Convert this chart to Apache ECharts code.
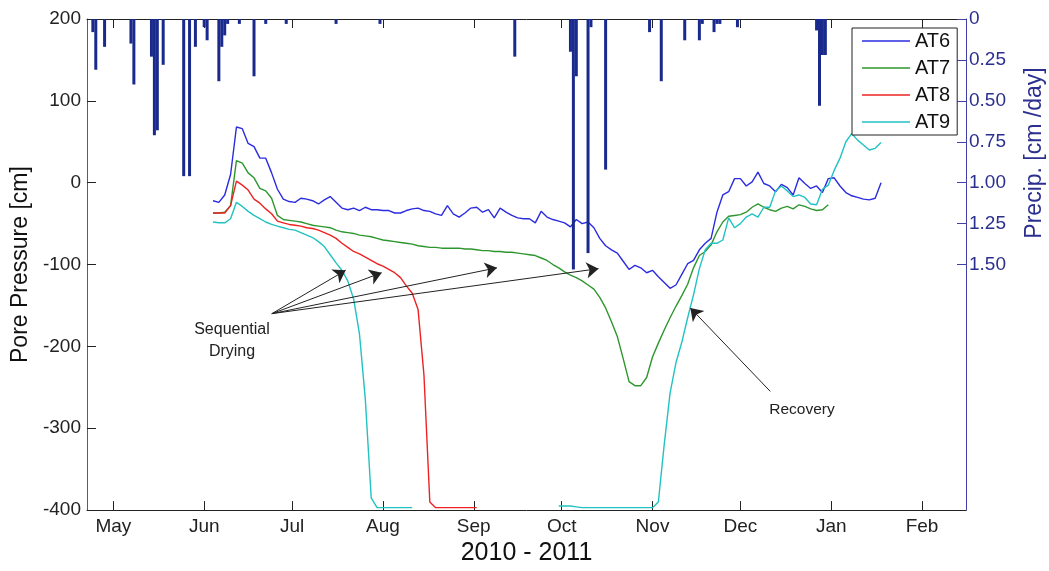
<!DOCTYPE html>
<html>
<head>
<meta charset="utf-8">
<title>Pore pressure and precipitation 2010 - 2011</title>
<script src="https://cdn.jsdelivr.net/npm/echarts@6/dist/echarts.min.js"></script>
<style>
  html, body { margin: 0; padding: 0; background: #fff; }
  #chart { width: 1049px; height: 571px; }
</style>
</head>
<body>
<div id="chart"></div>
<script>
// pore pressure readings, one every 2 days from 4 Jun 2010 (cm)
const sampleStart = '2010-06-04';
const sampleStepDays = 2;

const at6 = [
  -22, -24, -15, 10, 68, 66, 48, 44, 30, 30, 12, -8, -20, -23, -24, -19, -20, -22, -26, -21,
  -17, -24, -31, -33, -31, -34, -30, -33, -33, -34, -34, -37, -37, -34, -32, -31, -34, -35, -38, -40,
  -28, -38, -42, -37, -31, -30, -36, -33, -43, -31, -36, -40, -43, -44, -44, -49, -35, -42, -45, -47,
  -49, -54, -45, -50, -48, -55, -68, -77, -82, -86, -96, -106, -101, -104, -110, -107, -115, -122, -129, -125,
  -112, -99, -95, -82, -74, -68, -36, -15, -11, 5, 5, -4, 1, 13, -1, -4, -11, -2, -6, -15,
  6, -1, -7, -4, -12, 5, 6, -4, -12, -16, -18, -20, -21, -19, 0
];
const at7 = [
  -37, -37, -36, -28, 27, 24, 12, 6, -7, -10, -19, -40, -45, -46, -47, -48, -50, -52, -53, -54,
  -55, -58, -60, -61, -62, -64, -65, -66, -68, -70, -71, -72, -73, -74, -75, -77, -78, -79, -79, -80,
  -80, -80, -80, -81, -81, -82, -83, -83, -84, -84, -85, -85, -86, -87, -88, -89, -92, -95, -100, -104,
  -109, -113, -116, -120, -125, -130, -140, -153, -170, -188, -215, -243, -248, -248, -238, -213, -196, -180, -165, -151,
  -138, -124, -104, -89, -84, -76, -60, -48, -41, -40, -39, -36, -30, -26, -30, -33, -35, -31, -29, -32,
  -27, -29, -32, -34, -33, -27, null, null, null, null, null, null, null, null, null
];
const at8 = [
  -37, -37, -37, -28, 2, -3, -9, -20, -25, -32, -38, -47, -49, -51, -52, -53, -55, -56, -58, -61,
  -64, -68, -74, -79, -84, -87, -91, -95, -99, -102, -106, -110, -116, -126, -135, -155, -235, -390, -397, -397,
  -397, -397, -397, -397, -397, -397, null, null, null, null, null, null, null, null, null, null, null, null, null, null,
  null, null, null, null, null, null, null, null, null, null, null, null, null, null, null, null, null, null, null, null,
  null, null, null, null, null, null, null, null, null, null, null, null, null, null, null, null, null, null, null, null,
  null, null, null, null, null, null, null, null, null, null, null, null, null, null, null
];
const at9 = [
  -48, -49, -49, -44, -24, -29, -35, -40, -44, -48, -51, -53, -55, -57, -58, -61, -64, -67, -72, -78,
  -88, -98, -107, -120, -142, -185, -265, -385, -397, -397, -397, -397, -397, -397, -397, null, null, null, null, null,
  null, null, null, null, null, null, null, null, null, null, null, null, null, null, null, null, null, null, null, -395,
  -395, -395, -396, -397, -397, -397, -397, -397, -397, -397, -397, -397, -397, -397, -397, -397, -390, -320, -257, -220,
  -195, -165, -137, -105, -82, -74, -74, -70, -43, -55, -50, -42, -38, -42, -30, -30, -10, -4, -10, -17,
  -15, -18, -26, -27, -8, -3, 15, 30, 50, 60, 52, 46, 40, 42, 49
];

// daily precipitation (cm/day)
const precipDates = [
  '2010-04-24', '2010-04-25', '2010-04-28', '2010-05-07', '2010-05-08', '2010-05-14', '2010-05-15', '2010-05-16',
  '2010-05-18', '2010-05-25', '2010-05-27', '2010-05-29', '2010-06-01', '2010-06-02', '2010-06-06', '2010-06-07',
  '2010-06-08', '2010-06-09', '2010-06-13', '2010-06-18', '2010-06-22', '2010-06-29', '2010-07-16', '2010-07-31',
  '2010-09-15', '2010-10-04', '2010-10-05', '2010-10-06', '2010-10-10', '2010-10-11', '2010-10-16', '2010-10-31',
  '2010-11-04', '2010-11-12', '2010-11-17', '2010-11-18', '2010-11-22', '2010-11-23', '2010-11-24', '2010-11-30',
  '2010-12-27', '2010-12-28', '2010-12-29', '2010-12-30'
];
const precipValues = [
  0.08, 0.31, 0.17, 0.15, 0.40, 0.23, 0.71, 0.68,
  0.28, 0.96, 0.96, 0.17, 0.05, 0.13, 0.38, 0.17,
  0.10, 0.03, 0.03, 0.35, 0.03, 0.03, 0.03, 0.03,
  0.23, 0.20, 1.53, 0.35, 1.43, 0.05, 0.92, 0.08,
  0.38, 0.13, 0.13, 0.03, 0.08, 0.03, 0.03, 0.05,
  0.07, 0.53, 0.22, 0.22
];

const monthTicks = ['2010-05-01', '2010-06-01', '2010-07-01', '2010-08-01', '2010-09-01',
  '2010-10-01', '2010-11-01', '2010-12-01', '2011-01-01', '2011-02-01'];
const monthLabels = ['May', 'Jun', 'Jul', 'Aug', 'Sep', 'Oct', 'Nov', 'Dec', 'Jan', 'Feb'];
const precipTicks = [0, 0.25, 0.5, 0.75, 1.0, 1.25, 1.5];

// annotation arrows [date, cm]
const dryingFrom = ['2010-06-24T02:00Z', -160];
const dryingTo = [
  ['2010-07-19T07:00Z', -107],
  ['2010-07-31T14:00Z', -110],
  ['2010-09-08T22:00Z', -104],
  ['2010-10-13T14:00Z', -105]
];
const recoveryFrom = ['2010-12-11T05:00Z', -255];
const recoveryTo = ['2010-11-13T22:00Z', -153];

const DAY = 86400000;
const FONT = '"Liberation Sans", Arial, sans-serif';
const t0 = Date.parse(sampleStart);
const sampleDates = at6.map((_, i) => t0 + i * sampleStepDays * DAY);
const monthTimes = monthTicks.map(d => Date.parse(d));
const pair = vals => sampleDates.map((t, i) => [t, vals[i]]);
const pt = p => [Date.parse(p[0]), p[1]];

const chart = echarts.init(document.getElementById('chart'));

const arrowLines = dryingTo.map(p => [{ coord: pt(dryingFrom) }, { coord: pt(p) }]);
arrowLines.push([{ coord: pt(recoveryFrom) }, { coord: pt(recoveryTo) }]);

const timeMin = Date.parse('2010-04-22');
const timeMax = Date.parse('2011-02-16');

const lineSeries = (name, vals, color) => ({
  name: name,
  type: 'line',
  data: pair(vals),
  symbol: 'none',
  showSymbol: false,
  connectNulls: false,
  lineStyle: { color: color, width: 1.4 },
  itemStyle: { color: color },
  z: 2
});

const s6 = lineSeries('AT6', at6, '#2b2be0');
s6.markLine = {
  silent: true,
  symbol: ['none', 'arrow'],
  symbolSize: 12,
  label: { show: false },
  lineStyle: { color: '#222', width: 1, type: 'solid' },
  emphasis: { disabled: true },
  data: arrowLines
};

const monthAxis = (position) => ({
  type: 'value',
  min: timeMin,
  max: timeMax,
  position: position,
  axisLine: { onZero: false, lineStyle: { color: '#222', width: 1 } },
  axisTick: { inside: true, length: 9, customValues: monthTimes, lineStyle: { color: '#222' } },
  axisLabel: {
    show: position === 'bottom',
    customValues: monthTimes,
    formatter: v => monthLabels[monthTimes.findIndex(t => Math.abs(t - v) < DAY)] || '',
    fontSize: 19,
    color: '#222',
    margin: 7
  },
  splitLine: { show: false }
});

const xBottom = monthAxis('bottom');
xBottom.name = '2010 - 2011';
xBottom.nameLocation = 'middle';
xBottom.nameGap = 24;
xBottom.nameTextStyle = { fontSize: 25, color: '#111', fontFamily: FONT };

const option = {
  animation: false,
  textStyle: { fontFamily: FONT },
  grid: { left: 87, right: 83, top: 19, bottom: 52 },
  legend: {
    data: ['AT6', 'AT7', 'AT8', 'AT9'],
    orient: 'vertical',
    left: 852,
    top: 28,
    icon: 'rect',
    itemWidth: 48,
    itemHeight: 1.5,
    itemGap: 7,
    padding: [3, 7, 3, 10],
    backgroundColor: '#fff',
    borderColor: '#222',
    borderWidth: 1,
    textStyle: { fontSize: 20, lineHeight: 20, color: '#111', fontFamily: FONT }
  },
  xAxis: [xBottom, monthAxis('top')],
  yAxis: [
    {
      type: 'value',
      min: -400,
      max: 200,
      interval: 100,
      name: 'Pore Pressure [cm]',
      nameLocation: 'middle',
      nameGap: 46,
      nameTextStyle: { fontSize: 23, color: '#111', fontFamily: FONT },
      axisLine: { show: true, onZero: false, lineStyle: { color: '#5252b0' } },
      axisTick: { show: true, inside: true, length: 9, lineStyle: { color: '#222' } },
      axisLabel: { fontSize: 19, color: '#222', margin: 6 },
      splitLine: { show: false }
    },
    {
      type: 'value',
      position: 'right',
      inverse: true,
      min: 0,
      max: 3,
      axisLine: { show: true, onZero: false, lineStyle: { color: '#4040a8' } },
      axisTick: { show: true, inside: true, length: 9, customValues: precipTicks },
      axisLabel: {
        customValues: precipTicks,
        formatter: v => (v === 0 ? '0' : v.toFixed(2)),
        fontSize: 19,
        color: '#2b2f8f',
        margin: 3
      },
      splitLine: { show: false }
    }
  ],
  graphic: [
    {
      type: 'text',
      x: 1035,
      y: 153,
      rotation: Math.PI / 2,
      style: {
        text: 'Precip. [cm /day]',
        fontSize: 23,
        fontFamily: FONT,
        fill: '#2b2f8f',
        align: 'center',
        verticalAlign: 'middle'
      }
    },
    {
      type: 'text',
      x: 232,
      y: 341,
      style: {
        text: 'Sequential\nDrying',
        fontSize: 16,
        lineHeight: 22,
        fontFamily: FONT,
        fill: '#222',
        align: 'center',
        verticalAlign: 'middle'
      }
    },
    {
      type: 'text',
      x: 802,
      y: 410,
      style: {
        text: 'Recovery',
        fontSize: 15.5,
        fontFamily: FONT,
        fill: '#222',
        align: 'center',
        verticalAlign: 'middle'
      }
    }
  ],
  series: [
    s6,
    lineSeries('AT7', at7, '#2e962e'),
    lineSeries('AT8', at8, '#ee2222'),
    lineSeries('AT9', at9, '#22c2c2'),
    {
      name: 'Precip',
      type: 'bar',
      xAxisIndex: 0,
      yAxisIndex: 1,
      barWidth: 3,
      data: precipDates.map((d, i) => [Date.parse(d), precipValues[i]]),
      itemStyle: { color: '#1a2a8c' },
      z: 3
    }
  ]
};

chart.setOption(option);
</script>
</body>
</html>
